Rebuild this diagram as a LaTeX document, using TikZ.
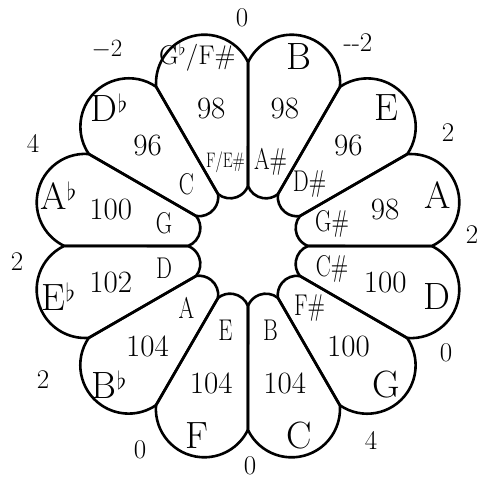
\documentclass[tikz,border=0pt]{standalone}
\usepackage{fontspec}
\begin{document}
\begin{tikzpicture}[x=1pt,y=1pt,
    petale/.style={line width=2.6pt, line join=round},
    note/.style={font=\fontsize{38}{42}\selectfont},
    nombre/.style={font=\fontsize{31}{34}\selectfont},
    interne/.style={font=\fontsize{30}{33}\selectfont, inner sep=1pt},
    ecart/.style={font=\fontsize{27}{30}\selectfont}]
    % Cadre
    \useasboundingbox (-248,-234) rectangle (234,246);

    % Pétales
    \foreach \a in {105,75,...,-225}
        \draw[petale] ({\a-15}:60) -- ({\a-15}:184)
            arc[start angle=\a-79.2, end angle=\a+79.2, radius=48.4]
            -- ({\a+15}:60)
            arc[start angle=\a+125.9, end angle=\a+234.1, radius=19.2] -- cycle;

    % Notes, nombres et notes internes
    \foreach \a/\ext/\nb/\inn [count=\i] in {
        105/{\fontsize{27}{30}\selectfont G$^\flat$/F\#}/98/{\fontsize{21}{24}\selectfont F/E\#},
        75/B/98/A\#,
        45/E/96/D\#,
        15/A/98/G\#,
        -15/D/100/C\#,
        -45/G/100/F\#,
        -75/C/104/B,
        -105/F/104/E,
        -135/B$^\flat$/104/A,
        -165/E$^\flat$/102/D,
        165/A$^\flat$/100/G,
        135/D$^\flat$/96/C}
    {
        \node[note] (ext-\i) at (\a:196) {\ext};
        \node[nombre] (nb-\i) at (\a:142) {\nb};
        \node[interne] (int-\i) at (\a:87) {\scalebox{0.75}[1]{\inn}};
    }

    % Écarts entre pétales
    \foreach \x/\y/\e [count=\j] in {
        -6/228/0, 110/203/-{}-2, 200/113/2, 224/11/2,
        198/-107/0, 123/-194/4, 2/-220/0, -108/-204/0,
        -205/-134/2, -231/-16/2, -215/103/4, -141/196/$-2$}
        \node[ecart] (ecart-\j) at (\x,\y) {\e};
\end{tikzpicture}
\end{document}
